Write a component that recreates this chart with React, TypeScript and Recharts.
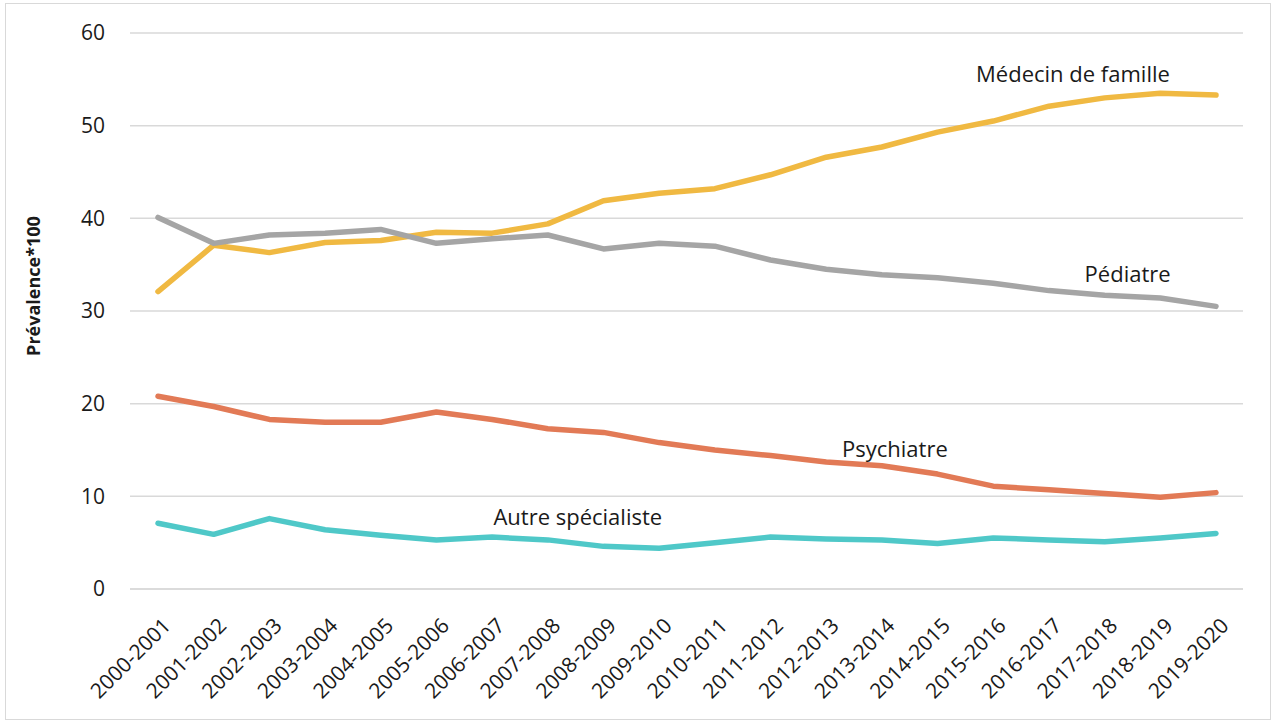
import { LineChart, Line, XAxis, YAxis, CartesianGrid, ReferenceDot } from 'recharts';

const periods = [
  '2000-2001', '2001-2002', '2002-2003', '2003-2004', '2004-2005',
  '2005-2006', '2006-2007', '2007-2008', '2008-2009', '2009-2010',
  '2010-2011', '2011-2012', '2012-2013', '2013-2014', '2014-2015',
  '2015-2016', '2016-2017', '2017-2018', '2018-2019', '2019-2020',
];

const medecinFamille = [32.1, 37.1, 36.3, 37.4, 37.6, 38.5, 38.4, 39.4, 41.9, 42.7, 43.2, 44.7, 46.6, 47.7, 49.3, 50.5, 52.1, 53.0, 53.5, 53.3];
const pediatre = [40.1, 37.3, 38.2, 38.4, 38.8, 37.3, 37.8, 38.2, 36.7, 37.3, 37.0, 35.5, 34.5, 33.9, 33.6, 33.0, 32.2, 31.7, 31.4, 30.5];
const psychiatre = [20.8, 19.7, 18.3, 18.0, 18.0, 19.1, 18.3, 17.3, 16.9, 15.8, 15.0, 14.4, 13.7, 13.3, 12.4, 11.1, 10.7, 10.3, 9.9, 10.4];
const autreSpecialiste = [7.1, 5.9, 7.6, 6.4, 5.8, 5.3, 5.6, 5.3, 4.6, 4.4, 5.0, 5.6, 5.4, 5.3, 4.9, 5.5, 5.3, 5.1, 5.5, 6.0];

const yTicks = [0, 10, 20, 30, 40, 50, 60];

const data = periods.map((period, i) => ({
  period,
  medecin: medecinFamille[i],
  pediatre: pediatre[i],
  psychiatre: psychiatre[i],
  autre: autreSpecialiste[i],
}));

const FONT = '"Open Sans", "Noto Sans", sans-serif';
const TEXT = '#1a1a1a';

const XTick = ({ x, y, payload }: any) => {
  const px = x + 14;
  const py = y + 38;
  return (
    <text
      x={px}
      y={py}
      transform={`rotate(-45, ${px}, ${py})`}
      textAnchor="end"
      fontSize={21}
      fontFamily={FONT}
      fill={TEXT}
    >
      {payload.value}
    </text>
  );
};

// series name placed next to a data point, shifted by dx/dy
const seriesLabel = (text: string, dx: number, dy: number) => (props: any) => {
  const vb = props.viewBox || {};
  const cx = (vb.x ?? 0) + (vb.width ?? 0) / 2;
  const cy = (vb.y ?? 0) + (vb.height ?? 0) / 2;
  return (
    <text x={cx + dx} y={cy + dy} textAnchor="middle" fontSize={22} fontFamily={FONT} fill={TEXT}>
      {text}
    </text>
  );
};

const YLabel = (props: any) => {
  const vb = props.viewBox || {};
  const x = 33;
  const y = (vb.y ?? 33) + (vb.height ?? 556) / 2 - 25;
  return (
    <text
      x={x}
      y={y}
      transform={`rotate(-90, ${x}, ${y})`}
      textAnchor="middle"
      dominantBaseline="central"
      fontSize={18}
      fontWeight="bold"
      fontFamily={FONT}
      fill={TEXT}
    >
      Prévalence*100
    </text>
  );
};

export default function App() {
  return (
    <div style={{ position: 'absolute', left: 0, top: 0, width: 1271, height: 721, background: '#fff' }}>
      <div
        style={{
          position: 'absolute',
          left: 5,
          top: 3,
          width: 1266,
          height: 717,
          border: '1px solid #d9d9d9',
          boxSizing: 'border-box',
        }}
      />
      <LineChart
        width={1271}
        height={721}
        data={data}
        margin={{ top: 33, right: 28, left: 0, bottom: 0 }}
        style={{ position: 'absolute', left: 0, top: 0 }}
      >
        <CartesianGrid vertical={false} stroke="#d9d9d9" strokeWidth={1.5} />
        <XAxis
          dataKey="period"
          interval={0}
          height={132}
          padding={{ left: 28, right: 27 }}
          tickLine={false}
          tickSize={0}
          tickMargin={0}
          axisLine={{ stroke: '#d9d9d9', strokeWidth: 1.5 }}
          tick={<XTick />}
        />
        <YAxis
          width={130}
          domain={[0, 60]}
          ticks={yTicks}
          interval={0}
          axisLine={false}
          tickLine={false}
          tickSize={0}
          tickMargin={25}
          tick={{ fontSize: 21, fontFamily: FONT, fill: TEXT }}
          label={<YLabel />}
        />
        <Line dataKey="medecin" stroke="#F0B942" strokeWidth={5.5} dot={false} strokeLinecap="round" strokeLinejoin="round" isAnimationActive={false} />
        <Line dataKey="pediatre" stroke="#A5A5A5" strokeWidth={5.5} dot={false} strokeLinecap="round" strokeLinejoin="round" isAnimationActive={false} />
        <Line dataKey="psychiatre" stroke="#E27A56" strokeWidth={5.5} dot={false} strokeLinecap="round" strokeLinejoin="round" isAnimationActive={false} />
        <Line dataKey="autre" stroke="#4FC8C8" strokeWidth={5.5} dot={false} strokeLinecap="round" strokeLinejoin="round" isAnimationActive={false} />
        <ReferenceDot x="2016-2017" y={55} r={0} fill="none" stroke="none" label={seriesLabel('Médecin de famille', 24, 3)} />
        <ReferenceDot x="2017-2018" y={33} r={0} fill="none" stroke="none" label={seriesLabel('Pédiatre', 23, -1.5)} />
        <ReferenceDot x="2013-2014" y={14} r={0} fill="none" stroke="none" label={seriesLabel('Psychiatre', 13, -2.6)} />
        <ReferenceDot x="2007-2008" y={7} r={0} fill="none" stroke="none" label={seriesLabel('Autre spécialiste', 30, 1)} />
      </LineChart>
    </div>
  );
}
